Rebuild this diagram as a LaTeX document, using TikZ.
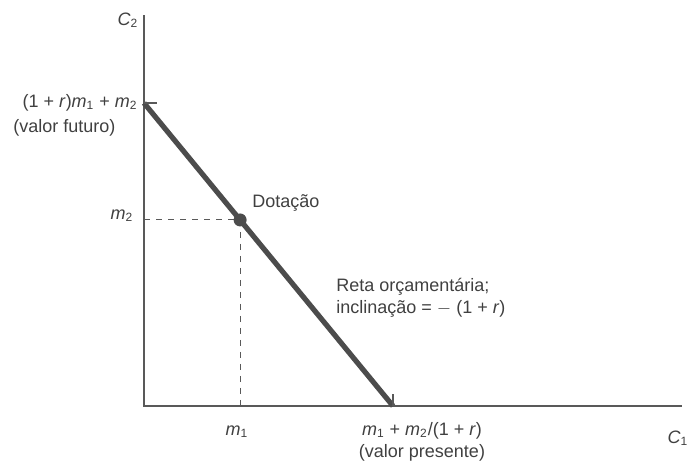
\documentclass[tikz,border=0pt]{standalone}
\usepackage{fontspec}
\setmainfont{Liberation Sans}
\usetikzlibrary{calc}

\newcommand{\vr}[2]{\textit{#1}\textsubscript{#2}}

\tikzset{
  axis/.style={draw=black!65, line width=0.8pt},
  budget/.style={draw=black!70, line width=2.6pt},
  guide/.style={draw=black!65, dashed, line width=0.5pt},
  lbl/.style={text=black!75, font=\fontsize{9}{11}\selectfont, inner sep=1pt, align=center},
}

\begin{document}
\begin{tikzpicture}[x=0.5pt, y=-0.5pt]
  \useasboundingbox (0,0) rectangle (691,468);

  % axes
  \coordinate (O) at (144,406);
  \coordinate (ytop) at (144,15);
  \coordinate (xend) at (682,406);
  \draw[axis] (ytop) -- (O) -- (xend);

  % intercepts and endowment
  \coordinate (A) at (144,103);
  \coordinate (B) at (393,406);
  \coordinate (E) at ($(A)!0.386!(B)$);
  \coordinate (Ey) at (O |- E);
  \coordinate (Ex) at (O -| E);
  \coordinate (Atick) at (157,103);
  \coordinate (Btick) at (393,394);

  \draw[guide] (Ey) -- (E) -- (Ex);
  \draw[budget] (A) -- (B);
  \draw[axis, line width=0.6pt] (A) -- (Atick);
  \draw[axis, line width=0.6pt] (B) -- (Btick);
  \fill[black!70] (E) circle (6.5);

  % labels
  \node[lbl] (c2) at (128,20) {\textit{C}\textsubscript{2}};
  \node[lbl, anchor=east] (fut) at (140,103) {(1 + \textit{r})\vr{m}{1} + \vr{m}{2}};
  \node[lbl, anchor=west] (futtxt) at (11,128) {(valor futuro)};
  \node[lbl] (m2) at (122,216) {\vr{m}{2}};
  \node[lbl, anchor=west] (dot) at (250,203) {Dotação};
  \node[lbl, anchor=west, align=left] (reta) at (334,298) {Reta orçamentária;\\inclinação = $-$ (1 + \textit{r})};
  \node[lbl] (m1) at (237,432) {\vr{m}{1}};
  \node[lbl] (pres) at (422,442) {\vr{m}{1} + \vr{m}{2}/(1 + \textit{r})\\(valor presente)};
  \node[lbl] (c1) at (678,438) {\textit{C}\textsubscript{1}};
\end{tikzpicture}
\end{document}
